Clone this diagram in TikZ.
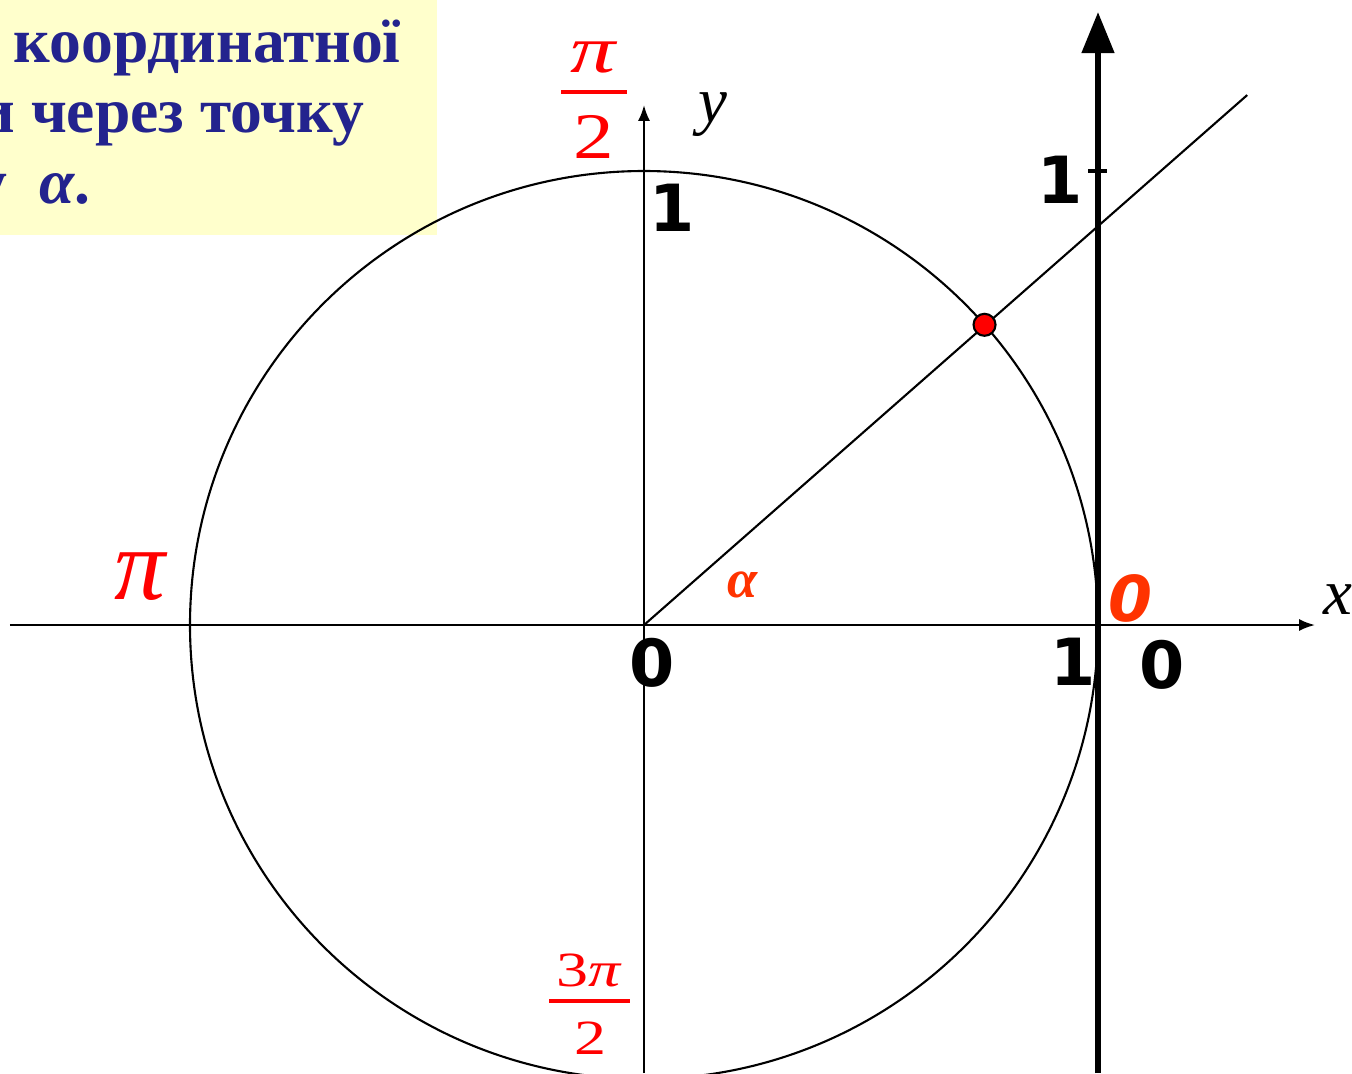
\documentclass[tikz,border=0pt]{standalone}
\usepackage{fontspec}
\setmainfont{Liberation Serif}
\newfontfamily\digitfont{DejaVu Sans}
\usetikzlibrary{arrows.meta, positioning}
\definecolor{boxfill}{HTML}{FFFFCC}
\definecolor{boxtext}{HTML}{23238E}
\definecolor{angred}{HTML}{FF3300}

\begin{document}
\begin{tikzpicture}[
    every node/.style={inner sep=0pt},
    thinline/.style={line width=0.6pt},
    axis/.style={line width=0.6pt, -{Latex[length=4.5pt,width=3.4pt]}},
    tanaxis/.style={line width=1.7pt, -{Triangle[length=11.7pt,width=9pt]}},
    digit/.style={font=\digitfont\bfseries\fontsize{18.5}{20}\selectfont},
    varlbl/.style={font=\itshape\fontsize{18.5}{20}\selectfont},
    redlbl/.style={text=red},
    fbar/.style={fill=red, minimum height=0.9pt, inner sep=0pt},
    boxline/.style={text=boxtext, font=\bfseries\fontsize{18.1}{20}\selectfont}
]
    \useasboundingbox (-6.44,-4.48) rectangle (7.08,6.25);

    % Text box in the corner
    \begin{scope}
        \clip (-6.44,3.90) rectangle (-2.07,6.25);
        \fill[boxfill] (-6.44,3.90) rectangle (-2.07,6.25);
        \node[boxline, anchor=base west] (line1) at (-6.31,5.63) {координатної};
        \node[boxline, anchor=base east] (line2) at (-2.79,4.93) {и через точку};
        \node[boxline, anchor=base east] (line3) at (-5.53,4.22) {у\enspace\textit{α}.};
    \end{scope}

    % Unit circle and axes
    \coordinate (O) at (0,0);
    \draw[thinline] (O) circle (4.54);
    \coordinate (xstart) at (-6.34,0);
    \coordinate (xend) at (6.71,0);
    \coordinate (ystart) at (0,-4.48);
    \coordinate (yend) at (0,5.20);
    \draw[axis] (xstart) -- (xend);
    \draw[axis] (ystart) -- (yend);

    % Tangent axis
    \coordinate (tstart) at (4.54,-4.48);
    \coordinate (tend) at (4.54,6.13);
    \draw[tanaxis] (tstart) -- (tend);
    \coordinate (tickl) at (4.44,4.54);
    \coordinate (tickr) at (4.63,4.54);
    \draw[line width=0.9pt] (tickl) -- (tickr);

    % Ray at angle alpha
    \coordinate (rayend) at (41.3:8.03);
    \draw[thinline] (O) -- (rayend);
    \node[circle, fill=red, draw=black, line width=0.6pt, minimum size=0.22cm] (P) at (41.4:4.54) {};

    % Axis labels
    \node[varlbl] (xlbl) at (6.94,0.25) {x};
    \node[varlbl] (ylbl) at (0.69,5.10) {y};

    % Numbers
    \node[digit] (yone) at (0.28,4.17) {1};
    \node[digit] (tone) at (4.16,4.45) {1};
    \node[digit] (ozero) at (0.08,-0.38) {0};
    \node[digit] (xone) at (4.29,-0.37) {1};
    \node[digit] (tzero) at (5.18,-0.40) {0};
    \node[digit, font=\digitfont\bfseries\itshape\fontsize{18}{20}\selectfont, text=angred] (redzero) at (4.86,0.27) {0};
    \node[text=angred, font=\bfseries\itshape\fontsize{15.5}{18}\selectfont] (alpha) at (0.99,0.40) {α};

    % Angle marks
    \node[redlbl, font=\itshape\fontsize{29}{30}\selectfont] (pi) at (-5.04,0.48) {π};
    \node[redlbl, font=\itshape\fontsize{19}{20}\selectfont] (halfnum) at (-0.51,5.68) {\scalebox{1.35}[1]{π}};
    \node[fbar, minimum width=0.66cm] (halfbar) at (-0.50,5.33) {};
    \node[redlbl, font=\fontsize{18.5}{20}\selectfont] (halfden) at (-0.50,4.88) {\scalebox{1.25}[1]{2}};
    \node[redlbl, font=\fontsize{14}{16}\selectfont] (thrnum) at (-0.55,-3.45) {\scalebox{1.3}[1]{3\textit{π}}};
    \node[fbar, minimum width=0.81cm] (thrbar) at (-0.55,-3.76) {};
    \node[redlbl, font=\fontsize{14}{16}\selectfont] (thrden) at (-0.54,-4.13) {\scalebox{1.3}[1]{2}};
\end{tikzpicture}
\end{document}
